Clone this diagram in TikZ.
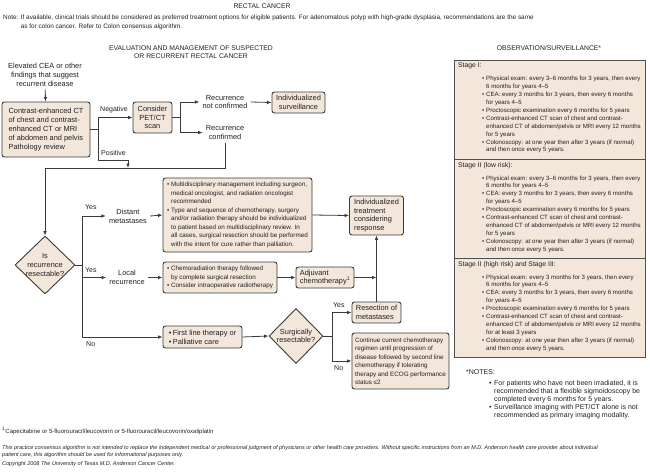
\documentclass[tikz,border=0pt]{standalone}
\usepackage{fontspec}
\setmainfont{Liberation Sans}
\usetikzlibrary{positioning, arrows.meta, shapes.geometric}
\definecolor{boxfill}{HTML}{F3E6DB}
\definecolor{edgegray}{HTML}{3A3A3A}
\definecolor{panelgray}{HTML}{505050}
\definecolor{inkgray}{HTML}{231F20}
\newcommand{\bitem}{\hspace*{24pt}\makebox[4pt][l]{•}}
\newcommand{\bcont}{\hspace*{28pt}}
\newcommand{\sitem}{\makebox[4pt][l]{•}}
\newcommand{\scont}{\hspace*{4pt}}

\begin{document}
\begin{tikzpicture}[x=1pt,y=-1pt,
  >={Latex[length=4.5pt,width=3.6pt]},
  every node/.style={text=inkgray},
  conn/.style={draw=edgegray, line width=0.8pt},
  flow/.style={font=\fontsize{7.4}{8.8}\selectfont, align=center, inner sep=3pt},
  lbl/.style={font=\fontsize{7}{8}\selectfont, inner sep=0pt, anchor=west},
  box/.style={draw=edgegray, fill=boxfill, line width=0.9pt, rounded corners=2.5pt,
    inner xsep=3pt, inner ysep=1pt, font=\fontsize{7.4}{8.8}\selectfont},
  smallbox/.style={box, font=\fontsize{6.3}{8.5}\selectfont},
  decision/.style={diamond, draw=edgegray, fill=boxfill, line width=0.9pt, inner sep=-4pt,
    align=center, font=\fontsize{7.4}{8.6}\selectfont},
  panel/.style={draw=panelgray, fill=boxfill, line width=0.9pt},
  stage/.style={anchor=north west, inner sep=0pt, align=left, font=\fontsize{6.1}{7.9}\selectfont},
  head/.style={font=\fontsize{6.8}{8.4}\selectfont, align=center, inner sep=0pt}]
\useasboundingbox (0,0) rectangle (650,472);

\node[head] (title) at (262,6) {RECTAL CANCER};
\node[anchor=north west, align=left, inner sep=0pt, font=\fontsize{6.4}{8.6}\selectfont] (note) at (3,15)
  {Note: If available, clinical trials should be considered as preferred treatment options for eligible patients. For adenomatous polyp with high-grade dysplasia, recommendations are the same\\
  \phantom{Note: }as for colon cancer. Refer to Colon consensus algorithm.};
\node[head] (evalhead) at (191,52) {EVALUATION AND MANAGEMENT OF SUSPECTED\\OR RECURRENT RECTAL CANCER};
\node[head] (obshead) at (549,48) {OBSERVATION/SURVEILLANCE*};

\node[flow] (elev) at (45,75) {Elevated CEA or other\\findings that suggest\\recurrent disease};
\node[box, minimum width=88pt, minimum height=55pt, align=left] (ct) at (46,129.5)
  {Contrast-enhanced CT\\of chest and contrast-\\enhanced CT or MRI\\of abdomen and pelvis\\Pathology review};
\node[box, minimum width=39pt, minimum height=31pt, align=center] (pet) at (152.5,117.5) {Consider\\PET/CT\\scan};
\node[flow] (notconf) at (225,102) {Recurrence\\not confirmed};
\node[flow] (conf) at (225,132.5) {Recurrence\\confirmed};
\node[box, minimum width=53pt, minimum height=21pt, align=center] (surv) at (298.5,102.5) {Individualized\\surveillance};

\node[decision, minimum width=60pt, minimum height=58pt] (isres) at (45,265) {Is\\recurrence\\resectable?};
\node[flow] (distant) at (128,216) {Distant\\metastases};
\node[smallbox, minimum width=149pt, minimum height=74pt, align=left] (multi) at (237.5,215)
  {\sitem Multidisciplinary management including surgeon,\\
   \scont medical oncologist, and radiation oncologist\\
   \scont recommended\\
   \sitem Type and sequence of chemotherapy, surgery\\
   \scont and/or radiation therapy should be individualized\\
   \scont to patient based on multidisciplinary review. In\\
   \scont all cases, surgical resection should be performed\\
   \scont with the intent for cure rather than palliation.};
\node[flow] (local) at (127,277.5) {Local\\recurrence};
\node[smallbox, minimum width=114pt, minimum height=31pt, align=left] (chemo) at (220,277.5)
  {\sitem Chemoradiation therapy followed\\
   \scont by complete surgical resection\\
   \sitem Consider intraoperative radiotherapy};
\node[box, minimum width=58pt, minimum height=21pt, align=left] (adj) at (325,277.5) {Adjuvant\\chemotherapy\textsuperscript{1}};
\node[box, minimum width=54pt, minimum height=39pt, align=left] (indiv) at (376.5,215.5)
  {Individualized\\treatment\\considering\\response};
\node[box, minimum width=79pt, minimum height=22pt, align=left] (first) at (202.5,337)
  {\sitem First line therapy or\\\sitem Palliative care};
\node[decision, minimum width=54pt, minimum height=55pt] (surg) at (296,336) {Surgically\\resectable?};
\node[box, minimum width=49pt, minimum height=21pt, align=left] (resec) at (376.5,312.5) {Resection of\\metastases};
\node[smallbox, minimum width=97pt, minimum height=56pt, align=left] (cont) at (400.5,361)
  {Continue current chemotherapy\\regimen until progression of\\disease followed by second line\\chemotherapy if tolerating\\therapy and ECOG performance\\status ≤2};

\node[lbl] (neg) at (100,110) {Negative};
\node[lbl] (pos) at (101,153) {Positive};
\node[lbl] (yes1) at (85,207) {Yes};
\node[lbl] (yes2) at (85,270) {Yes};
\node[lbl] (no1) at (86,344) {No};
\node[lbl] (yes3) at (333,305) {Yes};
\node[lbl] (no2) at (334,368) {No};

\coordinate (ctj) at (98,129.5);
\coordinate (posj) at (98,160);
\coordinate (barp) at (128,168);
\coordinate (barl) at (45,168);
\coordinate (petj) at (180,117.5);
\coordinate (resj) at (82,265);
\coordinate (surgj) at (332,336);

\draw[conn,->] (elev) -- (ct);
\draw[conn] (ct.east) -- (ctj);
\draw[conn,->] (ctj) |- (pet.west);
\draw[conn] (ctj) -- (posj);
\draw[conn,->] (posj) -| (barp);
\draw[conn] (conf.south) |- (barl);
\draw[conn,->] (barl) -- (isres.north);
\draw[conn] (pet.east) -- (petj);
\draw[conn,->] (petj) |- (notconf.west);
\draw[conn,->] (petj) |- (conf.west);
\draw[conn,->] (notconf.east) -- (surv.west);
\draw[conn] (isres.east) -- (resj);
\draw[conn,->] (resj) |- (distant.west);
\draw[conn,->] (resj) |- (local.west);
\draw[conn,->] (resj) |- (first.west);
\draw[conn,->] (distant.east) -- (multi.west);
\draw[conn,->] (multi.east) -- (indiv.west);
\draw[conn,->] (local.east) -- (chemo.west);
\draw[conn,->] (chemo.east) -- (adj.west);
\draw[conn,->] (adj.east) -- (adj.east -| indiv.south);
\draw[conn,->] (resec.north) -- (indiv.south);
\draw[conn,->] (first.east) -- (surg.west);
\draw[conn] (surg.east) -- (surgj);
\draw[conn,->] (surgj) |- (resec.west);
\draw[conn,->] (surgj) |- (cont.west);

\draw[panel] (454,60) rectangle (645,357);
\draw[panel] (454,159) -- (645,159);
\draw[panel] (454,258) -- (645,258);
\node[stage] (st1) at (458,63)
  {{\fontsize{6.8}{8}\selectfont Stage I:}\\[5pt]
   \bitem Physical exam: every 3--6 months for 3 years, then every\\
   \bcont 6 months for years 4--5\\
   \bitem CEA: every 3 months for 3 years, then every 6 months\\
   \bcont for years 4--5\\
   \bitem Proctoscopic examination every 6 months for 5 years\\
   \bitem Contrast-enhanced CT scan of chest and contrast-\\
   \bcont enhanced CT of abdomen/pelvis or MRI every 12 months\\
   \bcont for 5 years\\
   \bitem Colonoscopy: at one year then after 3 years (if normal)\\
   \bcont and then once every 5 years.};
\node[stage] (st2) at (458,162)
  {{\fontsize{6.8}{8}\selectfont Stage II (low risk):}\\[5pt]
   \bitem Physical exam: every 3--6 months for 3 years, then every\\
   \bcont 6 months for years 4--5\\
   \bitem CEA: every 3 months for 3 years, then every 6 months\\
   \bcont for years 4--5\\
   \bitem Proctoscopic examination every 6 months for 5 years\\
   \bitem Contrast-enhanced CT scan of chest and contrast-\\
   \bcont enhanced CT of abdomen/pelvis or MRI every 12 months\\
   \bcont for 5 years\\
   \bitem Colonoscopy: at one year then after 3 years (if normal)\\
   \bcont and then once every 5 years.};
\node[stage] (st3) at (458,261)
  {{\fontsize{6.8}{8}\selectfont Stage II (high risk) and Stage III:}\\[5pt]
   \bitem Physical exam: every 3 months for 3 years, then every\\
   \bcont 6 months for years 4--5\\
   \bitem CEA: every 3 months for 3 years, then every 6 months\\
   \bcont for years 4--5\\
   \bitem Proctoscopic examination every 6 months for 5 years\\
   \bitem Contrast-enhanced CT scan of chest and contrast-\\
   \bcont enhanced CT of abdomen/pelvis or MRI every 12 months\\
   \bcont for at least 3 years\\
   \bitem Colonoscopy: at one year then after 3 years (if normal)\\
   \bcont and then once every 5 years.};
\node[anchor=north west, align=left, inner sep=0pt, font=\fontsize{7}{8}\selectfont] (notes) at (466,369)
  {*NOTES:\\[3pt]
   \hspace*{23pt}\makebox[5pt][l]{•}For patients who have not been irradiated, it is\\
   \hspace*{28pt}recommended that a flexible sigmoidoscopy be\\
   \hspace*{28pt}completed every 6 months for 5 years.\\
   \hspace*{23pt}\makebox[5pt][l]{•}Surveillance imaging with PET/CT alone is not\\
   \hspace*{28pt}recommended as primary imaging modality.};

\node[anchor=west, inner sep=0pt, font=\fontsize{6}{7}\selectfont] (foot) at (2,431)
  {\textsuperscript{1}Capecitabine or 5-fluorouracil/leucovorin or 5-fluorouracil/leucovorin/oxaliplatin};
\node[anchor=north west, align=left, inner sep=0pt, font=\fontsize{5.5}{7.6}\itshape\selectfont] (disc) at (2,445)
  {This practice consensus algorithm is not intended to replace the independent medical or professional judgment of physicians or other health care providers. Without specific instructions from an M.D. Anderson health care provider about individual\\
   patient care, this algorithm should be used for informational purposes only.\\[1pt]
   Copyright 2008 The University of Texas M.D. Anderson Cancer Center.};
\end{tikzpicture}
\end{document}
